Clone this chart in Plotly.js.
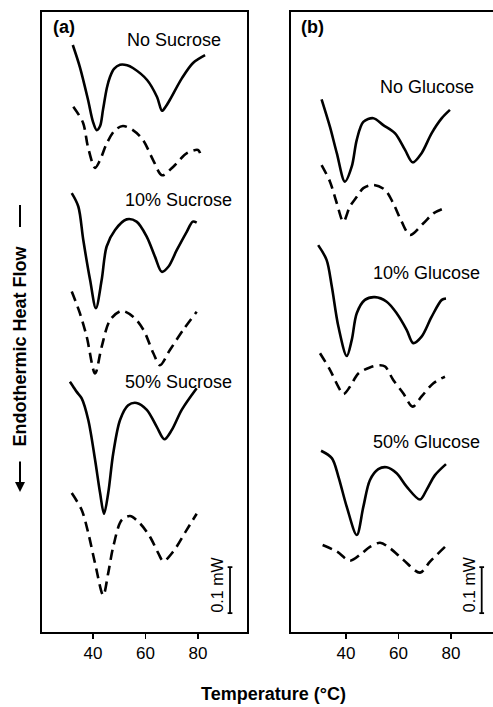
<!DOCTYPE html>
<html>
<head>
<meta charset="utf-8">
<script src="https://cdn.plot.ly/plotly-3.0.1.min.js"></script>
<style>
  html, body { margin: 0; padding: 0; overflow: hidden; background: #fff; }
  #chart { width: 500px; height: 707px; }
</style>
</head>
<body>
<div id="chart"></div>
<script>
// DSC thermograms: temperature (°C) vs endothermic heat flow (mW, curves stacked with offsets)

// Panel (a): sucrose series
const sucNoneSolidT  = [32.3, 35.0, 38.1, 40.0, 41.4, 42.7, 43.8, 45.3, 46.5, 48.0, 50.3, 53.0, 55.2, 60.6, 64.4, 66.3, 67.8, 69.3, 73.9, 78.1, 82.7];
const sucNoneSolidHF = [1.276, 1.228, 1.157, 1.109, 1.091, 1.100, 1.135, 1.183, 1.207, 1.224, 1.233, 1.232, 1.226, 1.200, 1.163, 1.133, 1.143, 1.157, 1.204, 1.237, 1.254];
const sucNoneDashT   = [32.5, 36.2, 38.1, 40.8, 42.7, 45.3, 48.4, 51.4, 55.2, 59.0, 62.9, 66.3, 70.5, 75.8, 80.0, 80.8];
const sucNoneDashHF  = [1.142, 1.107, 1.054, 1.009, 1.026, 1.063, 1.091, 1.100, 1.091, 1.070, 1.026, 0.993, 1.011, 1.041, 1.048, 1.041];

const suc10SolidT  = [31.9, 34.4, 36.3, 38.9, 41.1, 43.3, 45.2, 48.4, 52.8, 56.6, 60.5, 63.6, 66.2, 68.7, 71.9, 75.7, 78.0, 79.5];
const suc10SolidHF = [0.954, 0.925, 0.852, 0.765, 0.704, 0.765, 0.838, 0.874, 0.897, 0.892, 0.859, 0.816, 0.783, 0.794, 0.830, 0.870, 0.892, 0.890];
const suc10DashT   = [31.9, 35.0, 37.6, 40.8, 43.3, 46.5, 50.9, 55.4, 59.2, 63.0, 65.5, 69.3, 74.4, 79.5];
const suc10DashHF  = [0.740, 0.693, 0.642, 0.562, 0.620, 0.678, 0.698, 0.685, 0.657, 0.606, 0.580, 0.613, 0.657, 0.696];

const suc50SolidT  = [31.2, 32.3, 33.8, 35.7, 38.2, 40.8, 42.7, 44.2, 45.8, 47.7, 50.3, 53.4, 56.6, 60.5, 64.3, 67.2, 70.0, 73.8, 79.5];
const suc50SolidHF = [0.544, 0.535, 0.522, 0.508, 0.461, 0.374, 0.302, 0.257, 0.302, 0.388, 0.461, 0.493, 0.498, 0.483, 0.446, 0.419, 0.439, 0.483, 0.530];
const suc50DashT   = [31.9, 35.7, 38.2, 40.8, 43.9, 45.8, 47.7, 50.9, 54.1, 57.9, 61.7, 64.9, 66.8, 70.6, 75.7, 79.5];
const suc50DashHF  = [0.302, 0.265, 0.215, 0.149, 0.080, 0.128, 0.185, 0.243, 0.252, 0.236, 0.207, 0.171, 0.154, 0.175, 0.222, 0.257];

// Panel (b): glucose series
const gluNoneSolidT  = [30.7, 33.9, 36.5, 39.6, 42.2, 44.1, 46.6, 50.4, 54.2, 58.7, 62.5, 65.4, 68.8, 72.6, 76.5, 79.6];
const gluNoneSolidHF = [1.158, 1.098, 1.041, 0.979, 1.012, 1.070, 1.109, 1.117, 1.102, 1.084, 1.048, 1.021, 1.041, 1.084, 1.117, 1.135];
const gluNoneDashT   = [30.7, 33.9, 36.5, 39.0, 41.5, 44.1, 46.6, 50.4, 54.9, 58.0, 61.2, 64.4, 69.4, 73.3, 76.5];
const gluNoneDashHF  = [1.015, 0.979, 0.932, 0.892, 0.925, 0.946, 0.965, 0.972, 0.961, 0.932, 0.892, 0.863, 0.888, 0.910, 0.919];

const glu10SolidT  = [29.4, 32.6, 34.6, 37.1, 40.3, 42.2, 44.1, 47.2, 51.0, 55.5, 59.3, 63.1, 65.6, 68.8, 72.6, 76.5, 78.1];
const glu10SolidHF = [0.841, 0.809, 0.751, 0.664, 0.600, 0.635, 0.693, 0.722, 0.728, 0.718, 0.693, 0.657, 0.628, 0.642, 0.685, 0.722, 0.725];
const glu10DashT   = [30.1, 33.9, 37.1, 39.0, 41.5, 44.7, 49.1, 53.0, 54.9, 58.0, 61.8, 65.4, 68.8, 73.3, 77.7];
const glu10DashHF  = [0.606, 0.570, 0.533, 0.517, 0.533, 0.562, 0.575, 0.580, 0.577, 0.548, 0.519, 0.490, 0.512, 0.541, 0.555];

const glu50SolidT  = [30.5, 34.6, 37.1, 40.3, 44.1, 46.6, 49.1, 52.3, 55.5, 59.3, 63.1, 68.2, 70.7, 73.9, 78.1];
const glu50SolidHF = [0.394, 0.378, 0.338, 0.272, 0.211, 0.272, 0.330, 0.354, 0.358, 0.345, 0.316, 0.288, 0.309, 0.341, 0.365];
const glu50DashT   = [31.1, 36.5, 41.5, 46.0, 49.1, 53.0, 56.8, 61.8, 68.2, 72.0, 77.7];
const glu50DashHF  = [0.189, 0.175, 0.155, 0.171, 0.185, 0.194, 0.182, 0.157, 0.129, 0.153, 0.185];

// Curve labels and tick labels
const sucroseLabels = ['No Sucrose', '10% Sucrose', '50% Sucrose'];
const glucoseLabels = ['No Glucose', '10% Glucose', '50% Glucose'];
const tempTicks = [40, 60, 80];
const scaleBarMW = 0.1;
const scaleBarBase = 0.041;

const FONT = 'Liberation Sans, Arial, Helvetica, sans-serif';
const W = 500, H = 707;
const px = v => v / W;          // pixel -> paper x
const py = v => 1 - v / H;      // pixel -> paper y

function curve(x, y, dashed, xa, ya) {
  return {
    x: x, y: y, xaxis: xa, yaxis: ya, type: 'scatter', mode: 'lines',
    line: { color: '#000', width: 2.6, shape: 'spline', smoothing: 0.9,
            dash: dashed ? '10px,6px' : 'solid' },
    hoverinfo: 'skip'
  };
}

const data = [
  curve(sucNoneSolidT, sucNoneSolidHF, false, 'x', 'y'),
  curve(sucNoneDashT,  sucNoneDashHF,  true,  'x', 'y'),
  curve(suc10SolidT,   suc10SolidHF,   false, 'x', 'y'),
  curve(suc10DashT,    suc10DashHF,    true,  'x', 'y'),
  curve(suc50SolidT,   suc50SolidHF,   false, 'x', 'y'),
  curve(suc50DashT,    suc50DashHF,    true,  'x', 'y'),
  curve(gluNoneSolidT, gluNoneSolidHF, false, 'x2', 'y2'),
  curve(gluNoneDashT,  gluNoneDashHF,  true,  'x2', 'y2'),
  curve(glu10SolidT,   glu10SolidHF,   false, 'x2', 'y2'),
  curve(glu10DashT,    glu10DashHF,    true,  'x2', 'y2'),
  curve(glu50SolidT,   glu50SolidHF,   false, 'x2', 'y2'),
  curve(glu50DashT,    glu50DashHF,    true,  'x2', 'y2')
];

const xBase = {
  tickvals: tempTicks, ticktext: tempTicks.map(String),
  ticks: 'outside', ticklen: 5, tickwidth: 1.5, tickcolor: '#000',
  showline: true, mirror: true, linecolor: '#000', linewidth: 1.6,
  showgrid: false, zeroline: false,
  tickfont: { family: FONT, size: 17, color: '#000' }, fixedrange: true
};
const yBase = {
  range: [0, 1.3478], domain: [py(632), py(12)],
  showline: true, mirror: true, linecolor: '#000', linewidth: 1.6,
  showgrid: false, zeroline: false, showticklabels: false, ticks: '', fixedrange: true
};

const layout = {
  width: W, height: H,
  margin: { l: 0, r: 0, t: 0, b: 0 },
  paper_bgcolor: '#fff', plot_bgcolor: '#fff',
  showlegend: false,
  xaxis:  Object.assign({}, xBase, { domain: [px(42), px(247)], range: [20.57, 98.67], anchor: 'y' }),
  yaxis:  Object.assign({}, yBase, { anchor: 'x' }),
  xaxis2: Object.assign({}, xBase, { domain: [px(291), 1], range: [19.05, 98.67], anchor: 'y2' }),
  yaxis2: Object.assign({}, yBase, { anchor: 'x2' }),
  shapes: [],
  annotations: []
};

// 0.1 mW scale bars
[['x', 'y', 92.2], ['x2', 'y2', 91.7]].forEach(([xa, ya, xt]) => {
  const y0 = scaleBarBase, y1 = scaleBarBase + scaleBarMW;
  const ln = { color: '#000', width: 1.8 };
  layout.shapes.push({ type: 'line', xref: xa, yref: ya, x0: xt, x1: xt, y0: y0, y1: y1, line: ln });
  layout.shapes.push({ type: 'line', xref: xa, yref: ya, x0: xt - 0.9, x1: xt + 0.9, y0: y0, y1: y0, line: ln });
  layout.shapes.push({ type: 'line', xref: xa, yref: ya, x0: xt - 0.9, x1: xt + 0.9, y0: y1, y1: y1, line: ln });
  layout.annotations.push({
    xref: xa, yref: ya, x: xt - 4.6, y: (y0 + y1) / 2 + 0.012, text: '0.1 mW', textangle: -90,
    xanchor: 'center', yanchor: 'middle',
    showarrow: false, font: { family: FONT, size: 16, color: '#000' }
  });
});

// Curve labels
const sucLabelPos = [[70.7, 1.287], [72.4, 0.939], [72.4, 0.544]];
const gluLabelPos = [[70.9, 1.185], [70.7, 0.780], [70.7, 0.414]];
sucroseLabels.forEach((t, i) => layout.annotations.push({
  xref: 'x', yref: 'y', x: sucLabelPos[i][0], y: sucLabelPos[i][1], text: t,
  xanchor: 'center', yanchor: 'middle',
  showarrow: false, font: { family: FONT, size: 18, color: '#000' }
}));
glucoseLabels.forEach((t, i) => layout.annotations.push({
  xref: 'x2', yref: 'y2', x: gluLabelPos[i][0], y: gluLabelPos[i][1], text: t,
  xanchor: 'center', yanchor: 'middle',
  showarrow: false, font: { family: FONT, size: 18, color: '#000' }
}));

// Panel letters
const paperText = (x, y, text, extra) => Object.assign({
  xref: 'paper', yref: 'paper', x: px(x), y: py(y), text: text, showarrow: false,
  xanchor: 'center', yanchor: 'middle', font: { family: FONT, size: 18, color: '#000' }
}, extra || {});
layout.annotations.push(
  paperText(64, 27, '<b>(a)</b>'),
  paperText(312.5, 27.5, '<b>(b)</b>')
);

// Shared axis titles
layout.annotations.push(
  paperText(273, 694, '<b>Temperature (°C)</b>'),
  paperText(19.5, 346, '<b>Endothermic Heat Flow</b>', { textangle: -90 }),
  // downward arrow below the title
  { xref: 'paper', yref: 'paper', x: px(20), y: py(492), ax: 0, ay: -32, text: '',
    showarrow: true, arrowhead: 2, arrowsize: 1, arrowwidth: 2, arrowcolor: '#000' }
);
// dash above the title
layout.shapes.push({ type: 'line', xref: 'paper', yref: 'paper', x0: px(20), x1: px(20), y0: py(205), y1: py(227),
  line: { color: '#000', width: 2 } });

Plotly.newPlot('chart', data, layout, { staticPlot: true, displayModeBar: false });
</script>
</body>
</html>
